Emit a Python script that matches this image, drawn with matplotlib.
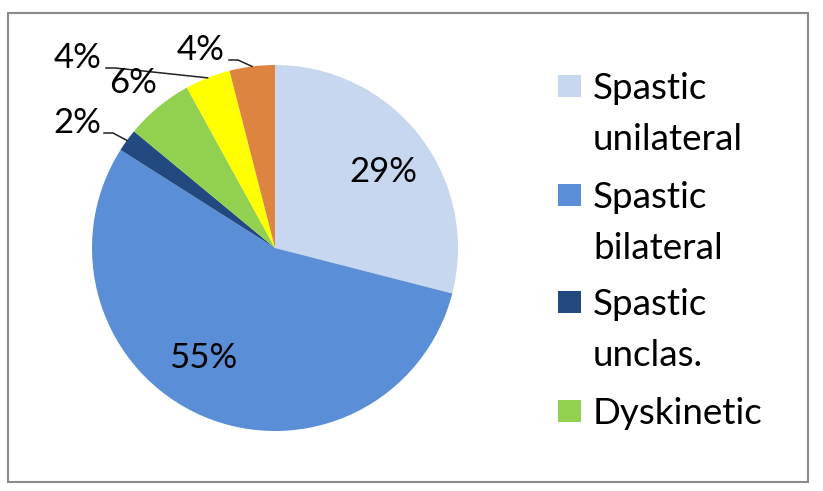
import numpy as np
import matplotlib
matplotlib.use('Agg')
import matplotlib.pyplot as plt
from matplotlib.patches import Rectangle

###data###
labels = ['Spastic\nunilateral', 'Spastic\nbilateral', 'Spastic\nunclas.', 'Dyskinetic', 'Ataxic', 'Other']
values = [29, 55, 2, 6, 4, 4]
pct_text = ['29%', '55%', '2%', '6%', '4%', '4%']
colors = ['#C6D7EF', '#5A8ED6', '#234A80', '#92D050', '#FFFF00', '#DD8540']
legend_n = 4   # only four entries fit in the box

###layout (pixels)###
W, H = 823, 491
cx, cy, R = 275, 248, 183
font = 'Lato'
fs = 25
fs_leg = 26.5

def to_data(x, y):
	return (x - cx) / R, (cy - y) / R

def to_fig(x, y):
	return x / W, 1 - y / H

fig = plt.figure(figsize=(W / 100, H / 100), dpi=100)
plt.rcParams['font.family'] = [font, 'DejaVu Sans']

# outer frame
fig.patches.append(Rectangle(to_fig(8, 482), 800 / W, 469 / H, transform=fig.transFigure,
	fill=False, edgecolor='#8a8a8a', linewidth=1.5))

ax = fig.add_axes([0, 0, 1, 1])
wedges, _ = ax.pie(values, colors=colors, startangle=90, counterclock=False,
	radius=1, center=(0, 0), wedgeprops=dict(linewidth=0))
ax.set_xlim(-cx / R, (W - cx) / R)
ax.set_ylim(-(H - cy) / R, cy / R)
ax.axis('off')

# label positions (text centre, pixels) and leader start (pixels, None = no leader)
label_pos = [(383, 172), (203, 358), (77, 123), (133, 83), (78, 58), (201, 50)]
leader_start = [None, None, (104, 133), None, (106, 68), (229, 60)]

for i, w in enumerate(wedges):
	x, y = to_data(*label_pos[i])
	ax.text(x, y, pct_text[i], ha='center', va='center', fontsize=fs, color='black')
	if leader_start[i] is not None:
		mid = np.deg2rad((w.theta1 + w.theta2) / 2)
		ex, ey = np.cos(mid), np.sin(mid)
		sx, sy = to_data(*leader_start[i])
		kx = sx + 9 / R
		ax.plot([sx, kx, ex], [sy, sy, ey], color='#222222', linewidth=1.1)

# legend drawn by hand: square next to first line of each label
base_y = [99, 208, 315, 424]
for i in range(legend_n):
	fig.patches.append(Rectangle(to_fig(558, base_y[i] - 2), 23 / W, 22 / H,
		transform=fig.transFigure, facecolor=colors[i], edgecolor='none'))
	lines = labels[i].split('\n')
	for j, ln in enumerate(lines):
		fig.text(*to_fig(593, base_y[i] + j * 51), ln, fontsize=fs_leg, va='baseline', ha='left')

plt.savefig('out.png', dpi=100)
